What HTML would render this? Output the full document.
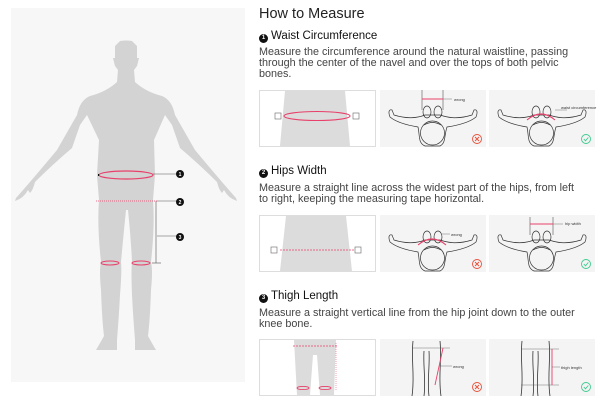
<!DOCTYPE html>
<html><head><meta charset="utf-8"><style>
*{margin:0;padding:0;box-sizing:border-box}
body{width:610px;height:402px;background:#fff;position:relative;overflow:hidden;font-family:"Liberation Sans",sans-serif;color:#222}
.t{position:absolute;white-space:nowrap}
.h1{left:259px;top:6px;font-size:14.5px;color:#222}
.h2{left:259px;font-size:11.5px;color:#111}
.h2 b{display:inline-block;width:9px;height:9px;border-radius:50%;background:#111;color:#fff;font-size:6px;text-align:center;line-height:9px;vertical-align:0px;margin-right:3px;font-weight:bold}
.p{left:259px;font-size:10.8px;line-height:11px;color:#444}
svg{position:absolute;left:0;top:0}
</style></head><body>
<svg width="610" height="402" viewBox="0 0 610 402">
<defs>
<g id="top">
<path d="M10,27 C8,22 9,19 12,20 L14,25 C30,30 40,27 45,25 L60,25 C66,27 76,30 92,25 L94,20 C97,19 98,22 96,27 C90,32 80,35 67,37 C64,46 66,53 60,56 L45,56 C38,53 40,46 38,37 C26,35 16,32 10,27 Z" fill="none" stroke="#333" stroke-width="0.7"/>
<circle cx="52.5" cy="43" r="12" fill="#f4f4f4" stroke="#333" stroke-width="0.7"/>
<path d="M44,35 Q52.5,30 61,35" fill="none" stroke="#333" stroke-width="0.7"/>
<ellipse cx="47" cy="22" rx="4" ry="6" fill="none" stroke="#333" stroke-width="0.7"/>
<ellipse cx="58" cy="22" rx="4" ry="6" fill="none" stroke="#333" stroke-width="0.7"/>
</g>
<g id="legs">
<path d="M33,0 C31,20 35,35 32,55 M60,0 C62,20 58,35 61,55 M44,10 C43,25 46,40 44,55 M49,10 C50,25 47,40 49,55" fill="none" stroke="#333" stroke-width="0.8"/>
</g>
<g id="bad"><circle r="4.5" fill="none" stroke="#e8503a" stroke-width="0.9"/><path d="M-2,-2L2,2M2,-2L-2,2" stroke="#e8503a" stroke-width="0.9"/></g>
<g id="ok"><circle r="4.5" fill="none" stroke="#3dcc8e" stroke-width="0.9"/><path d="M-2.2,0L-0.5,1.8L2.3,-1.5" fill="none" stroke="#3dcc8e" stroke-width="0.9"/></g>
</defs>
<rect x="11" y="8" width="234" height="374" fill="#f7f7f7"/>
<path d="M120,41 Q126,40 132,41 L137,46 L137,58 L139,58 L137,66 L134,70 L135,82 Q146,92 162,96 Q172,100 175,115 L195,150 Q220,180 236,198 L237,201 Q228,198 224,190 L222,193 Q219,190 217,182 Q200,165 180,148 L172,125 L165,115 L154,140 L155,175 L153,200 Q155,225 151,262 Q153,270 151,290 Q150,320 148,336 Q153,345 156,350 L135,350 L135,340 Q133,315 132,295 Q131,270 132,262 Q131,240 128,210 L126,210 Q123,240 121,262 Q122,270 120,295 Q119,315 117,340 L117,350 L96,350 Q99,345 104,336 Q102,320 101,290 Q99,270 101,262 Q97,225 99,200 L97,175 L99,140 L87,115 L80,125 L72,148 Q52,165 35,182 Q33,190 30,193 L28,190 Q24,198 15,201 L16,198 Q32,180 57,150 L77,115 Q80,100 90,96 Q106,92 117,82 L118,70 L115,66 L113,58 L115,58 L115,46 Z" fill="#d3d3d3"/>
<ellipse cx="126" cy="175" rx="27" ry="4" fill="none" stroke="#e8406a" stroke-width="1.2"/>
<path d="M99,175 h-1" stroke="#111" stroke-width="2"/>
<line x1="153" y1="174" x2="178" y2="174" stroke="#555" stroke-width="0.6"/>
<line x1="96" y1="201" x2="157" y2="201" stroke="#e8406a" stroke-width="0.8" stroke-dasharray="1,1"/>
<line x1="157" y1="201" x2="178" y2="201" stroke="#555" stroke-width="0.6"/>
<line x1="156" y1="201" x2="156" y2="263" stroke="#555" stroke-width="0.6"/>
<line x1="157" y1="236" x2="178" y2="236" stroke="#555" stroke-width="0.6"/>
<line x1="152" y1="263" x2="161" y2="263" stroke="#555" stroke-width="0.6"/>
<ellipse cx="110" cy="263" rx="9" ry="2" fill="none" stroke="#e8406a" stroke-width="1"/>
<ellipse cx="141" cy="263" rx="9" ry="2" fill="none" stroke="#e8406a" stroke-width="1"/>
<g font-family="Liberation Sans" font-size="5" font-weight="bold" fill="#fff" text-anchor="middle">
<circle cx="180" cy="174" r="4" fill="#111"/><text x="180" y="176">1</text>
<circle cx="180" cy="202" r="4" fill="#111"/><text x="180" y="204">2</text>
<circle cx="180" cy="237" r="4" fill="#111"/><text x="180" y="239">3</text>
</g>
<rect x="259.5" y="90.5" width="116" height="56" fill="#fff" stroke="#ddd"/>
<path d="M285,91 L345,91 L350,146 L280,146 Z" fill="#dcdcdc"/>
<ellipse cx="317" cy="116" rx="33" ry="4.5" fill="none" stroke="#e8406a" stroke-width="1.1"/>
<rect x="275" y="113" width="6" height="6" fill="#fff" stroke="#666" stroke-width="0.6"/>
<rect x="353" y="113" width="6" height="6" fill="#fff" stroke="#666" stroke-width="0.6"/>
<rect x="380" y="90" width="106" height="57" fill="#f4f4f4"/>
<g transform="translate(380,90)"><use href="#top"/>
<line x1="42" y1="0" x2="42" y2="20" stroke="#333" stroke-width="0.5"/><line x1="63" y1="0" x2="63" y2="20" stroke="#333" stroke-width="0.5"/>
<line x1="42" y1="9" x2="63" y2="9" stroke="#e8406a" stroke-width="0.9"/><line x1="63" y1="9" x2="72" y2="9" stroke="#555" stroke-width="0.4"/>
<text x="74" y="11" font-size="4" fill="#333" font-family="Liberation Sans">wrong</text>
<use href="#bad" x="97" y="49"/></g>
<rect x="489" y="90" width="106" height="57" fill="#f4f4f4"/>
<g transform="translate(489,90)"><use href="#top"/>
<path d="M38,30 Q52,18 66,30" fill="none" stroke="#e8406a" stroke-width="1.1"/>
<line x1="66" y1="20" x2="78" y2="20" stroke="#555" stroke-width="0.4"/>
<text x="72" y="19" font-size="4" fill="#333" font-family="Liberation Sans">waist circumference</text>
<use href="#ok" x="97" y="49"/></g>
<rect x="259.5" y="215.5" width="116" height="56" fill="#fff" stroke="#ddd"/>
<path d="M286,216 L346,216 L352,271 L280,271 Z" fill="#dcdcdc"/>
<line x1="280" y1="250" x2="355" y2="250" stroke="#e8406a" stroke-width="0.8" stroke-dasharray="2,1"/>
<rect x="271" y="247" width="6" height="6" fill="#fff" stroke="#666" stroke-width="0.6"/>
<rect x="355" y="247" width="6" height="6" fill="#fff" stroke="#666" stroke-width="0.6"/>
<rect x="380" y="215" width="106" height="57" fill="#f4f4f4"/>
<g transform="translate(380,215)"><use href="#top"/>
<path d="M38,30 Q52,18 66,30" fill="none" stroke="#e8406a" stroke-width="1.1"/>
<line x1="62" y1="19" x2="70" y2="19" stroke="#555" stroke-width="0.4"/>
<text x="71" y="21" font-size="4" fill="#333" font-family="Liberation Sans">wrong</text>
<use href="#bad" x="97" y="49"/></g>
<rect x="489" y="215" width="106" height="57" fill="#f4f4f4"/>
<g transform="translate(489,215)"><use href="#top"/>
<line x1="41" y1="2" x2="41" y2="20" stroke="#333" stroke-width="0.5"/><line x1="64" y1="2" x2="64" y2="20" stroke="#333" stroke-width="0.5"/>
<line x1="41" y1="9" x2="64" y2="9" stroke="#e8406a" stroke-width="0.9"/><line x1="64" y1="9" x2="74" y2="9" stroke="#555" stroke-width="0.4"/>
<text x="76" y="10" font-size="4" fill="#333" font-family="Liberation Sans">hip width</text>
<use href="#ok" x="97" y="49"/></g>
<rect x="259.5" y="339.5" width="116" height="56" fill="#fff" stroke="#ddd"/>
<path d="M294,340 L336,340 L334,395 L320,395 L317,355 L313,355 L310,395 L297,395 Z" fill="#dcdcdc"/>
<line x1="293" y1="346" x2="337" y2="346" stroke="#e8406a" stroke-width="0.8" stroke-dasharray="2,1"/>
<ellipse cx="303" cy="388" rx="6" ry="1.6" fill="none" stroke="#e8406a" stroke-width="0.9"/>
<ellipse cx="325" cy="388" rx="6" ry="1.6" fill="none" stroke="#e8406a" stroke-width="0.9"/>
<line x1="336" y1="343" x2="336" y2="391" stroke="#e8406a" stroke-width="0.5" stroke-dasharray="1,1"/>
<rect x="380" y="339" width="106" height="57" fill="#f4f4f4"/>
<g transform="translate(380,341)"><use href="#legs"/>
<line x1="32" y1="7" x2="70" y2="7" stroke="#555" stroke-width="0.4"/>
<line x1="63" y1="7" x2="55" y2="44" stroke="#e8406a" stroke-width="0.9"/>
<line x1="60" y1="25" x2="72" y2="25" stroke="#555" stroke-width="0.4"/>
<text x="73" y="27" font-size="4" fill="#333" font-family="Liberation Sans">wrong</text>
<use href="#bad" x="97" y="46"/></g>
<rect x="489" y="339" width="106" height="57" fill="#f4f4f4"/>
<g transform="translate(489,341)"><use href="#legs"/>
<line x1="32" y1="8" x2="70" y2="8" stroke="#555" stroke-width="0.4"/>
<line x1="32" y1="44" x2="70" y2="44" stroke="#555" stroke-width="0.4"/>
<line x1="63" y1="8" x2="63" y2="44" stroke="#e8406a" stroke-width="0.9"/>
<line x1="63" y1="26" x2="71" y2="26" stroke="#555" stroke-width="0.4"/>
<text x="72" y="28" font-size="4" fill="#333" font-family="Liberation Sans">thigh length</text>
<use href="#ok" x="97" y="46"/></g>
</svg>
<div class="t h1">How to Measure</div>
<div class="t h2" style="top:30px"><b>1</b>Waist Circumference</div>
<div class="t p" style="top:47px">Measure the circumference around the natural waistline, passing<br>through the center of the navel and over the tops of both pelvic<br>bones.</div>
<div class="t h2" style="top:165px"><b>2</b>Hips Width</div>
<div class="t p" style="top:183px">Measure a straight line across the widest part of the hips, from left<br>to right, keeping the measuring tape horizontal.</div>
<div class="t h2" style="top:290px"><b>3</b>Thigh Length</div>
<div class="t p" style="top:308px">Measure a straight vertical line from the hip joint down to the outer<br>knee bone.</div>
</body></html>
